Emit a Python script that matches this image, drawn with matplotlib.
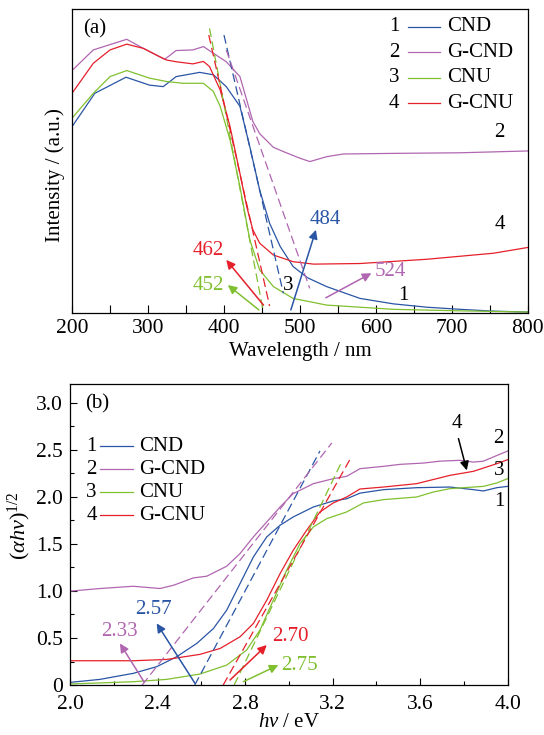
import matplotlib

matplotlib.use("Agg")
import matplotlib.pyplot as plt

plt.rcParams["font.family"] = ["Liberation Serif", "DejaVu Serif"]
plt.rcParams["mathtext.fontset"] = "custom"
plt.rcParams["mathtext.rm"] = "Liberation Serif"
plt.rcParams["mathtext.it"] = "Liberation Serif:italic"

BLUE = "#2a55a5"
PURPLE = "#b066b0"
GREEN = "#80c030"
RED = "#e5202a"

names = ["CND", "G-CND", "CNU", "G-CNU"]
colors = [BLUE, PURPLE, GREEN, RED]

# (a) diffuse reflectance spectra
wl_cnd = [200, 230, 271, 302, 320, 337, 368, 386, 403, 421, 434, 447, 460, 474,
          491, 510, 535, 579, 623, 667, 711, 755, 800]
int_cnd = [0.613, 0.723, 0.776, 0.750, 0.745, 0.778, 0.792, 0.784, 0.745, 0.680,
           0.547, 0.404, 0.295, 0.218, 0.152, 0.115, 0.086, 0.047, 0.029, 0.018,
           0.011, 0.005, 0.002]
wl_gcnd = [200, 228, 272, 294, 315, 322, 337, 359, 373, 386, 403, 421, 430, 438,
           447, 465, 482, 500, 513, 535, 557, 623, 711, 800]
int_gcnd = [0.798, 0.866, 0.901, 0.871, 0.844, 0.835, 0.864, 0.866, 0.877, 0.855,
            0.827, 0.778, 0.700, 0.630, 0.590, 0.545, 0.527, 0.509, 0.498, 0.514,
            0.523, 0.525, 0.527, 0.533]
wl_cnu = [200, 228, 250, 272, 302, 324, 346, 373, 386, 395, 408, 421, 434, 447,
          465, 491, 535, 623, 711, 800]
int_cnu = [0.641, 0.723, 0.778, 0.798, 0.773, 0.762, 0.756, 0.756, 0.729, 0.680,
           0.569, 0.415, 0.240, 0.141, 0.086, 0.047, 0.025, 0.011, 0.006, 0.002]
wl_gcnu = [200, 228, 250, 272, 294, 315, 324, 337, 359, 373, 381, 395, 408, 421,
           430, 438, 447, 465, 491, 518, 579, 667, 755, 800]
int_gcnu = [0.723, 0.822, 0.866, 0.885, 0.871, 0.844, 0.833, 0.827, 0.820, 0.828,
            0.811, 0.734, 0.613, 0.459, 0.349, 0.273, 0.229, 0.190, 0.168, 0.160,
            0.162, 0.176, 0.196, 0.215]

# absorption edges (nm) and the upper point each tangent starts from
edge_nm = [484, 524, 452, 462]
tan_top_a = [(400, 0.915), (403, 0.866), (381, 0.937), (380, 0.915)]
tan_stop_a = [0.064, 0.080, 0.003, 0.022]

# (b) Tauc plot
ev_cnd = [2.0, 2.137, 2.289, 2.396, 2.487, 2.579, 2.655, 2.716, 2.777, 2.838,
          2.899, 2.96, 3.02, 3.112, 3.203, 3.264, 3.325, 3.432, 3.584, 3.736,
          3.843, 3.889, 3.95, 4.0]
tauc_cnd = [0.028, 0.060, 0.124, 0.195, 0.300, 0.442, 0.600, 0.796, 1.079, 1.362,
            1.575, 1.699, 1.787, 1.893, 1.957, 1.980, 2.040, 2.077, 2.098, 2.105,
            2.077, 2.063, 2.098, 2.112]
ev_gcnd = [2.0, 2.137, 2.289, 2.411, 2.472, 2.564, 2.625, 2.716, 2.777, 2.838,
           2.899, 2.96, 3.02, 3.112, 3.203, 3.264, 3.325, 3.432, 3.508, 3.615,
           3.691, 3.782, 3.843, 3.889, 3.95, 4.0]
tauc_gcnd = [0.998, 1.026, 1.050, 1.026, 1.060, 1.139, 1.157, 1.263, 1.398, 1.575,
             1.734, 1.893, 2.035, 2.141, 2.194, 2.219, 2.300, 2.325, 2.346, 2.360,
             2.380, 2.389, 2.370, 2.380, 2.440, 2.488]
ev_cnu = [2.0, 2.289, 2.442, 2.594, 2.716, 2.807, 2.868, 2.929, 2.99, 3.051,
          3.112, 3.173, 3.264, 3.341, 3.432, 3.584, 3.66, 3.736, 3.889, 3.95, 4.0]
tauc_cnu = [0.011, 0.035, 0.060, 0.117, 0.212, 0.372, 0.584, 0.902, 1.221, 1.504,
            1.681, 1.769, 1.840, 1.936, 1.971, 1.999, 2.052, 2.088, 2.112, 2.148,
            2.194]
ev_gcnu = [2.0, 2.289, 2.442, 2.594, 2.686, 2.777, 2.838, 2.899, 2.96, 3.02,
           3.081, 3.142, 3.203, 3.264, 3.325, 3.432, 3.584, 3.736, 3.843, 3.95, 4.0]
tauc_gcnu = [0.258, 0.258, 0.272, 0.326, 0.389, 0.513, 0.655, 0.902, 1.185, 1.433,
             1.645, 1.840, 1.936, 1.999, 2.084, 2.105, 2.141, 2.229, 2.272, 2.353,
             2.396]

# band gaps (eV) and the upper end of each tangent
gap_ev = [2.57, 2.33, 2.75, 2.70]
tan_top_b = [(3.142, 2.488), (3.196, 2.573), (3.241, 2.371), (3.287, 2.431)]

spectra = [(wl_cnd, int_cnd), (wl_gcnd, int_gcnd), (wl_cnu, int_cnu), (wl_gcnu, int_gcnu)]
tauc = [(ev_cnd, tauc_cnd), (ev_gcnd, tauc_gcnd), (ev_cnu, tauc_cnu), (ev_gcnu, tauc_gcnu)]

fig = plt.figure(figsize=(5.44, 7.35), dpi=100)
ax_a = fig.add_axes([0.1324, 0.5746, 0.838, 0.4128])
ax_b = fig.add_axes([0.1287, 0.068, 0.8046, 0.4095])

DASH = (0, (7, 3.5))
arrow_kw = dict(arrowstyle="-|>", lw=1.1, mutation_scale=13, shrinkA=0, shrinkB=0)

# ---- panel (a) ----
for (x, y), c in zip(spectra, colors):
    ax_a.plot(x, y, color=c, lw=0.9)

for x0, (x1, y1), ys, c in zip(edge_nm, tan_top_a, tan_stop_a, colors):
    x_end = x0 - ys * (x0 - x1) / y1
    ax_a.plot([x1, x_end], [y1, ys], color=c, lw=0.9, ls=DASH)

# edge labels with arrows: (text pos, arrow tail, arrow head)
edge_marks = [
    ((533, 0.308), (488, 0.009), (521, 0.273)),
    ((619, 0.135), (534, 0.049), (594, 0.130)),
    ((380, 0.091), (446, 0.009), (405, 0.091)),
    ((379, 0.204), (452, 0.025), (403, 0.174)),
]
for v, (tp, tail, head), c in zip(edge_nm, edge_marks, colors):
    ax_a.annotate("", xy=head, xytext=tail, arrowprops=dict(color=c, **arrow_kw))
    ax_a.text(*tp, str(v), color=c, fontsize=15, ha="center", va="center")

ax_a.text(485, 0.091, "3", fontsize=15, ha="center", va="center")
ax_a.text(636, 0.058, "1", fontsize=15, ha="center", va="center")
ax_a.text(763, 0.593, "2", fontsize=15, ha="center", va="center")
ax_a.text(763, 0.292, "4", fontsize=15, ha="center", va="center")
ax_a.text(0.05, 0.937, "(a)", transform=ax_a.transAxes, fontsize=15,
          ha="center", va="center")

for i, (n, c) in enumerate(zip(names, colors)):
    yy = 0.943 - i * 0.0843
    ax_a.text(0.707, yy, str(i + 1), transform=ax_a.transAxes, fontsize=15,
              ha="center", va="center")
    ax_a.plot([0.737, 0.807], [yy, yy], transform=ax_a.transAxes, color=c, lw=0.9)
    ax_a.text(0.822, yy, n, transform=ax_a.transAxes, fontsize=15,
              ha="left", va="center")

ax_a.set_xlim(200, 800)
ax_a.set_ylim(0, 1)
ax_a.set_xticks(range(200, 801, 100))
ax_a.set_xticks(range(250, 800, 100), minor=True)
ax_a.set_yticks([])
ax_a.tick_params(axis="x", which="both", direction="in", length=5.5, width=0.8,
                 labelsize=15.5, pad=4.5)
ax_a.set_xlabel("Wavelength / nm", fontsize=15, labelpad=3)
ax_a.set_ylabel("Intensity / (a.u.)", fontsize=15)
ax_a.yaxis.set_label_coords(-0.015, 0.455)

# ---- panel (b) ----
for (x, y), c in zip(tauc, colors):
    ax_b.plot(x, y, color=c, lw=0.9)

for x0, (x1, y1), c in zip(gap_ev, tan_top_b, colors):
    ax_b.plot([x0, x1], [0, y1], color=c, lw=0.9, ls=DASH)

gap_marks = [
    ((2.381, 0.803), (2.571, 0.018), (2.396, 0.655)),
    ((2.225, 0.566), (2.338, 0.035), (2.228, 0.442)),
    ((3.048, 0.212), (2.792, 0.035), (2.952, 0.212)),
    ((3.005, 0.513), (2.731, 0.053), (2.899, 0.425)),
]
for v, (tp, tail, head), c in zip(gap_ev, gap_marks, colors):
    ax_b.annotate("", xy=head, xytext=tail, arrowprops=dict(color=c, **arrow_kw))
    ax_b.text(*tp, f"{v:.2f}", color=c, fontsize=15, ha="center", va="center")

ax_b.annotate("", xy=(3.813, 2.282), xytext=(3.775, 2.62),
              arrowprops=dict(color="black", **arrow_kw))
ax_b.text(3.767, 2.778, "4", fontsize=15, ha="center", va="center")
ax_b.text(3.957, 2.619, "2", fontsize=15, ha="center", va="center")
ax_b.text(3.96, 2.282, "3", fontsize=15, ha="center", va="center")
ax_b.text(3.96, 1.946, "1", fontsize=15, ha="center", va="center")
ax_b.text(0.061, 0.934, "(b)", transform=ax_b.transAxes, fontsize=15,
          ha="center", va="center")

for i, (n, c) in enumerate(zip(names, colors)):
    yy = 0.793 - i * 0.0763
    ax_b.text(0.0495, yy, str(i + 1), transform=ax_b.transAxes, fontsize=15,
              ha="center", va="center")
    ax_b.plot([0.0685, 0.143], [yy, yy], transform=ax_b.transAxes, color=c, lw=0.9)
    ax_b.text(0.158, yy, n, transform=ax_b.transAxes, fontsize=15,
              ha="left", va="center")

ax_b.set_xlim(2.0, 4.0)
ax_b.set_ylim(0, 3.2)
ax_b.set_xticks([2.0, 2.4, 2.8, 3.2, 3.6, 4.0])
ax_b.set_xticks([2.2, 2.6, 3.0, 3.4, 3.8], minor=True)
ax_b.set_yticks([0, 0.5, 1.0, 1.5, 2.0, 2.5, 3.0])
ax_b.set_yticklabels(["0", "0.5", "1.0", "1.5", "2.0", "2.5", "3.0"])
ax_b.set_yticks([0.25, 0.75, 1.25, 1.75, 2.25, 2.75], minor=True)
ax_b.tick_params(which="major", direction="in", length=5, width=0.8,
                 labelsize=15.5, pad=5)
ax_b.tick_params(axis="x", which="major", pad=7.5)
ax_b.tick_params(which="minor", direction="in", length=3, width=0.8)
ax_b.set_xlabel(r"$h\nu$ / eV", fontsize=15)
ax_b.xaxis.set_label_coords(0.5, -0.092)
ax_b.set_ylabel(r"$(\alpha h\nu)^{\mathrm{1/2}}$", fontsize=16)
ax_b.yaxis.set_label_coords(-0.085, 0.528)

for ax in (ax_a, ax_b):
    for s in ax.spines.values():
        s.set_linewidth(0.9)

fig.savefig("out.png", dpi=100, facecolor="white")
